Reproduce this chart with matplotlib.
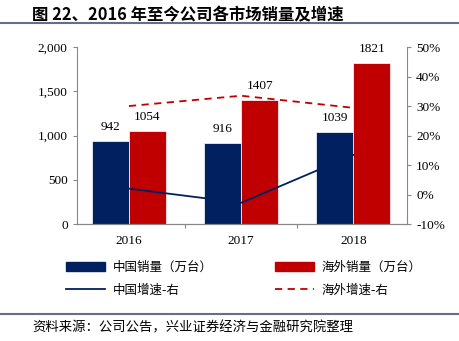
import numpy as np
import matplotlib.pyplot as plt
from matplotlib.lines import Line2D
from matplotlib.patches import Patch

plt.rcParams['font.family'] = ['Liberation Serif', 'Noto Sans CJK SC']

years = ['2016', '2017', '2018']
china_sales = [942, 916, 1039]
overseas_sales = [1054, 1407, 1821]
china_growth = [2.0, -2.8, 13.4]
overseas_growth = [30.0, 33.5, 29.4]

navy = '#002060'
red = '#C00000'

fig = plt.figure(figsize=(4.6, 3.41), dpi=100)
ax = fig.add_axes([0.167, 0.343, 0.718, 0.519])
ax2 = ax.twinx()

x = np.arange(len(years))
w = 0.33
ax.bar(x - w / 2, china_sales, w, color=navy, edgecolor='white', linewidth=0.5, zorder=2)
ax.bar(x + w / 2, overseas_sales, w, color=red, edgecolor='white', linewidth=0.5, zorder=2)
for i in range(len(years)):
    ax.text(x[i] - w / 2, china_sales[i] + 90, str(china_sales[i]), ha='center', va='bottom', fontsize=9.5)
    ax.text(x[i] + w / 2, overseas_sales[i] + 90, str(overseas_sales[i]), ha='center', va='bottom', fontsize=9.5)

ax2.plot(x, china_growth, color=navy, linewidth=1.3)
ax2.plot(x, overseas_growth, color=red, linewidth=1.3, linestyle=(0, (4, 3)))

ax.set_xlim(-0.465, 2.48)
ax.set_ylim(0, 2000)
ax.set_yticks([0, 500, 1000, 1500, 2000])
ax.set_yticklabels(['0', '500', '1,000', '1,500', '2,000'])
ax2.set_ylim(-10, 50)
ax2.set_yticks(range(-10, 51, 10))
ax2.set_yticklabels([f'{v}%' for v in range(-10, 51, 10)])

ax.set_xticks([0.5, 1.5])
ax.set_xticklabels([])
ax.tick_params(axis='x', length=3, color='#888888')
for i, yr in enumerate(years):
    ax.text(i, -0.06, yr, transform=ax.get_xaxis_transform(), ha='center', va='top', fontsize=9.5)

for a in (ax, ax2):
    a.spines['top'].set_visible(False)
    for s in ('left', 'right', 'bottom'):
        a.spines[s].set_color('#888888')
    a.tick_params(axis='y', labelsize=9.5, length=3, color='#888888')
ax.spines['right'].set_visible(False)
ax2.spines['left'].set_visible(False)

# legend (column-major order so rows read sales / growth)
handles = [Patch(color=navy), Line2D([], [], color=navy, lw=1.3),
           Patch(color=red), Line2D([], [], color=red, lw=1.3, ls=(0, (4, 3)))]
labels = ['中国销量（万台）', '中国增速-右', '海外销量（万台）', '海外增速-右']
fig.legend(handles, labels, ncol=2, loc='center', bbox_to_anchor=(0.53, 0.183),
           frameon=False, handlelength=3.1, handletextpad=0.6, columnspacing=5.0,
           labelspacing=0.8, prop={'family': 'Noto Sans CJK SC', 'size': 9})

# title and source
fig.text(0.07, 0.955, '图 22、2016 年至今公司各市场销量及增速', fontsize=11.8, fontweight='bold',
         family=['Noto Sans CJK SC'], va='center')
fig.add_artist(Line2D([0, 1], [0.932, 0.932], color='#6a6a8a', lw=1.5))
fig.add_artist(Line2D([0, 1], [0.08, 0.08], color='#6a6a8a', lw=1.5))
fig.text(0.07, 0.04, '资料来源：公司公告，兴业证券经济与金融研究院整理', fontsize=9.6,
         family=['Noto Sans CJK SC'], va='center')

fig.savefig('out.png', dpi=100)
